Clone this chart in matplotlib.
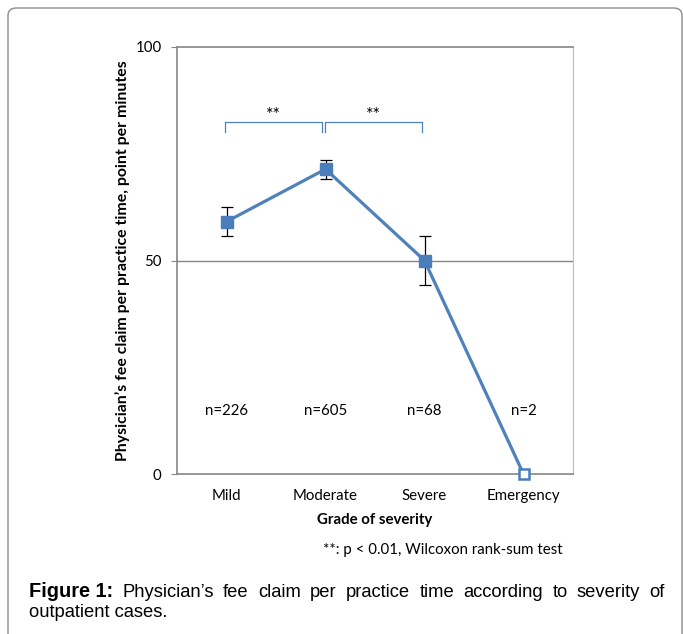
import matplotlib.pyplot as plt
from matplotlib.patches import FancyBboxPatch

# values
grades = ["Mild", "Moderate", "Severe", "Emergency"]
fee_per_min = [59.1, 71.4, 50.0, 0.0]
err = [3.4, 2.2, 5.8, 0.0]
n_labels = ["n=226", "n=605", "n=68", "n=2"]
caption_words = "Physician’s fee claim per practice time according to severity of".split()

blue = "#4f81bd"
chart_font = ["Lato", "DejaVu Sans"]
fs = 10.8

fig = plt.figure(figsize=(6.83, 6.34), dpi=100)
ax = fig.add_axes([177 / 683, 1 - 474 / 634, 396 / 683, 427 / 634])

x = list(range(len(grades)))
# line through all points
ax.plot(x, fee_per_min, color=blue, lw=2.3, zorder=3)
ax.errorbar(x[:3], fee_per_min[:3], yerr=err[:3], fmt="none", ecolor="black",
            elinewidth=0.9, capsize=4, capthick=0.9, zorder=2)
ax.plot(x[:3], fee_per_min[:3], "s", color="#4a7ebb", ms=9, zorder=4)
ax.plot(x[3], fee_per_min[3], "s", mfc="white", mec="#4a7ebb", mew=1.8, ms=7.5,
        zorder=4, clip_on=False)

for i, lab in enumerate(n_labels):
    ax.text(i, 14.8, lab, ha="center", va="center", fontsize=fs, family=chart_font)

# significance brackets
for a, b in [(-0.02, 0.96), (0.99, 1.97)]:
    ax.plot([a, a, b, b], [80.2, 82.5, 82.5, 80.2], color=blue, lw=0.9)
    ax.text((a + b) / 2, 84.0, "**", ha="center", va="center", fontsize=13, family=chart_font)

ax.set_xlim(-0.5, 3.5)
ax.set_ylim(0, 100)
ax.set_yticks([0, 50, 100])
ax.set_xticks(x)
ax.set_xticklabels(grades, fontsize=fs, family=chart_font)
ax.tick_params(axis="y", labelsize=fs, length=4, color="#868686", pad=7)
ax.tick_params(axis="x", length=0, pad=11)
for lab in ax.get_yticklabels():
    lab.set_family(chart_font)
ax.axhline(50, color="#868686", lw=1, zorder=1)
for side in ["left", "bottom", "top"]:
    ax.spines[side].set_color("#868686")
    ax.spines[side].set_linewidth(1.2)
ax.spines["right"].set_color("#bfbfbf")

ax.set_xlabel("Grade of severity", fontsize=fs, fontweight="bold", family=chart_font, labelpad=7)
ax.set_ylabel("Physician’s fee claim per practice time, point per minutes", fontsize=11.4,
              fontweight="bold", family=chart_font, labelpad=4)

fig.text(323 / 683, 1 - 550 / 634, "**: p < 0.01, Wilcoxon rank-sum test", fontsize=fs,
         family=chart_font, va="center")

# outer rounded frame
frame = FancyBboxPatch((8 / 683, -0.1), 674 / 683, 1.1 - 8 / 634,
                       boxstyle="round,pad=0,rounding_size=0.012",
                       transform=fig.transFigure, fill=False, ec="#8c8c8c", lw=1)
fig.patches.append(frame)

# justified caption, first line
cap_font = ["Liberation Sans", "DejaVu Sans"]
fig.canvas.draw()
r = fig.canvas.get_renderer()
y1 = 1 - 597 / 634
left, right = 29, 665
pieces = [fig.text(0, y1, "Figure 1:", fontsize=14.4, fontweight="bold", family=cap_font, va="baseline")]
for w in caption_words:
    pieces.append(fig.text(0, y1, w, fontsize=13.2, family=cap_font, va="baseline"))
widths = [p.get_window_extent(r).width for p in pieces]
gap = (right - left - sum(widths)) / (len(pieces) - 1)
pos = left
for p, w in zip(pieces, widths):
    p.set_x(pos / 683)
    pos += w + gap
fig.text(left / 683, 1 - 617 / 634, "outpatient cases.", fontsize=13.2, family=cap_font, va="baseline")

fig.savefig("out.png", dpi=100)
